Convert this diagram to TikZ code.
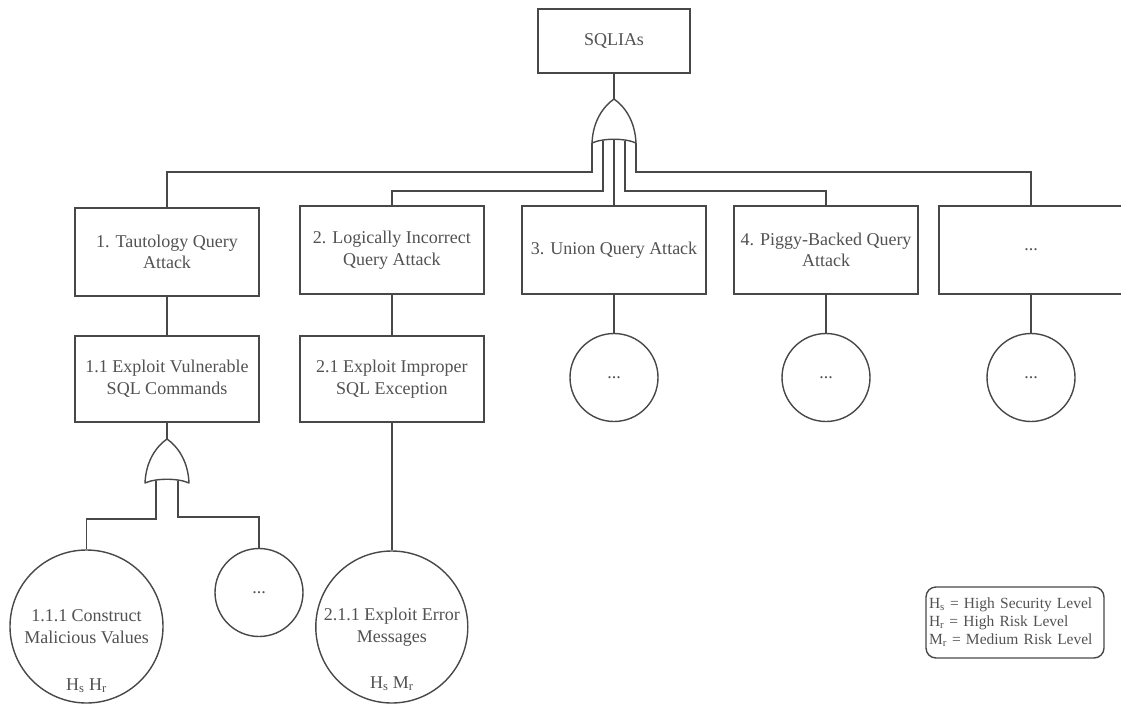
\documentclass[tikz,border=0pt]{standalone}
\usepackage{fontspec}
\setmainfont{Liberation Serif}
\definecolor{linec}{RGB}{72,72,72}
\definecolor{textc}{RGB}{82,82,82}
\newcommand\mybig{\fontsize{18}{21.6}\selectfont}
\newcommand\mylegend{\fontsize{15.5}{18}\selectfont}
\begin{document}
\begin{tikzpicture}[x=1pt,y=-1pt,line width=1.4pt,color=linec,
  box/.style={draw=linec,fill=white,minimum width=184pt,minimum height=88pt,align=center,inner sep=2pt,text=textc,font=\mybig},
  circ/.style={draw=linec,fill=white,circle,inner sep=0pt,align=center,text=textc,font=\mybig},
  gate/.style={draw=linec,fill=white,line join=round},
  rating/.style={text=textc,font=\mybig,anchor=base,inner sep=0pt},
  legend/.style={draw=linec,rounded corners=10pt,text width=172pt,inner xsep=3pt,minimum height=71pt,align=left,text=textc,font=\mylegend}]
\useasboundingbox (0,0) rectangle (1121,704);

% top
\node[box,minimum width=152pt,minimum height=64pt] (root) at (614,41) {SQLIAs};
\coordinate (gAtip) at (614,99);
\coordinate (gAl) at (592,143);
\coordinate (gAr) at (636,143);
\coordinate (a1) at (592,143);
\coordinate (a2) at (603,140.5);
\coordinate (a3) at (614,139.5);
\coordinate (a4) at (625,140.5);
\coordinate (a5) at (636,143);

% level 1
\node[box] (t1) at (167,252) {1. Tautology Query\\Attack};
\node[box] (t2) at (391.8,250) {2. Logically Incorrect\\Query Attack};
\node[box] (t3) at (614,250) {3. Union Query Attack};
\node[box] (t4) at (826,250) {4. Piggy-Backed Query\\Attack};
\node[box] (t5) at (1031,250) {...};

% level 2
\node[box,minimum height=86pt] (t11) at (167,379) {1.1 Exploit Vulnerable\\SQL Commands};
\node[box,minimum height=86pt] (t21) at (391.8,379) {2.1 Exploit Improper\\SQL Exception};

% circles under level 1
\node[circ,minimum size=88pt] (c3) at (614,377.5) {...};
\node[circ,minimum size=88pt] (c4) at (826,377.5) {...};
\node[circ,minimum size=88pt] (c5) at (1031,377.5) {...};

% lower gate
\coordinate (gBtip) at (167,439);
\coordinate (gBl) at (145,483);
\coordinate (gBr) at (189,483);
\coordinate (b1) at (156,480.5);
\coordinate (b2) at (178,480.5);

% leaves
\node[circ,minimum size=153pt] (c111) at (86.5,626.5) {1.1.1 Construct\\Malicious Values};
\node[circ,minimum size=88pt] (c112) at (259,592.5) {...};
\node[circ,minimum size=152pt] (c211) at (391.8,627) {2.1.1 Exploit Error\\Messages};
\node[rating] (r111) at (86.5,690) {H\textsubscript{s} H\textsubscript{r}};
\node[rating] (r211) at (391.8,688) {H\textsubscript{s} M\textsubscript{r}};

% legend
\node[legend] (leg) at (1015,622.5) {H\textsubscript{s} = High Security Level\\H\textsubscript{r} = High Risk Level\\M\textsubscript{r} = Medium Risk Level};

% connectors
\draw (root.south) -- (gAtip);
\draw (a1) -- ++(0,29) -| (t1.north);
\draw (a2) -- ++(0,50.5) -| (t2.north);
\draw (a3) -- (t3.north);
\draw (a4) -- ++(0,50.5) -| (t4.north);
\draw (a5) -- ++(0,29) -| (t5.north);
\draw (t1.south) -- (t11.north);
\draw (t2.south) -- (t21.north);
\draw (t3.south) -- (c3.north);
\draw (t4.south) -- (c4.north);
\draw (t5.south) -- (c5.north);
\draw (t11.south) -- (gBtip);
\draw (b1) -- ++(0,38.5) -| (c111.north);
\draw (b2) -- ++(0,36.5) -| (c112.north);
\draw (t21.south) -- (c211.north);

% gates
\draw[gate] (gAl) .. controls (593,120) and (604,106) .. (gAtip)
  .. controls (624,106) and (635,120) .. (gAr)
  .. controls (625,138) and (603,138) .. (gAl) -- cycle;
\draw[gate] (gBl) .. controls (146,460) and (157,446) .. (gBtip)
  .. controls (177,446) and (188,460) .. (gBr)
  .. controls (178,478) and (156,478) .. (gBl) -- cycle;
\end{tikzpicture}
\end{document}
